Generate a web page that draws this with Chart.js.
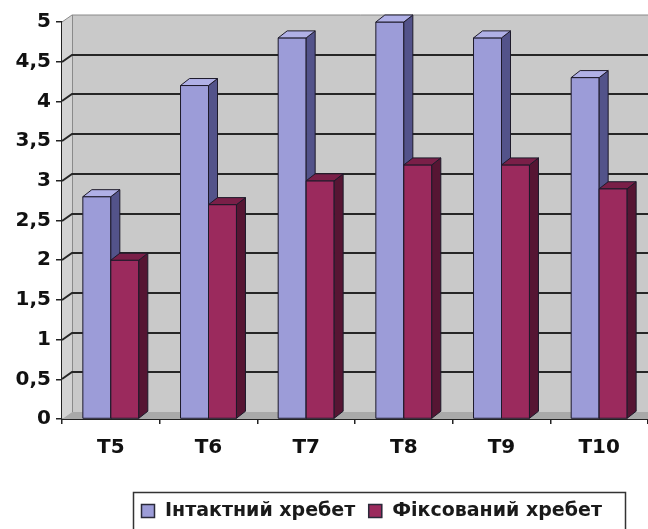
<!DOCTYPE html>
<html>
<head>
<meta charset="utf-8">
<script src="https://cdn.jsdelivr.net/npm/chart.js@4.4.1/dist/chart.umd.min.js"></script>
<style>
  html, body { margin: 0; padding: 0; background: #ffffff; }
  #wrap { width: 648px; height: 529px; }
</style>
</head>
<body>
<div id="wrap"><canvas id="chart" width="648" height="529"></canvas></div>
<script>
// Vertebral levels and the two measured series
const categories = ['T5', 'T6', 'T7', 'T8', 'T9', 'T10'];
const intactSpine = [2.8, 4.2, 4.8, 5.0, 4.8, 4.3];
const fixedSpine = [2.0, 2.7, 3.0, 3.2, 3.2, 2.9];
const seriesNames = ['Інтактний хребет', 'Фіксований хребет'];
const yRange = { min: 0, max: 5, step: 0.5 };

// Face colours for each series: front, side, top
const palette = [
  { front: '#9c9cd8', side: '#53538a', top: '#b0b0e6' },
  { front: '#9b2a5d', side: '#561533', top: '#7a1f48' }
];
const FONT = '"DejaVu Sans", sans-serif';
const WALL = { dx: 10, dy: 7 };
const DEPTH = { dx: 9, dy: 7 };

// Back wall, side wall, floor and wall gridlines
const wallPlugin = {
  id: 'wall3d',
  beforeDatasetsDraw(chart) {
    const { ctx, chartArea: a, scales: { y } } = chart;
    const L = a.left, R = a.right + 40, T = a.top, B = a.bottom;
    ctx.save();
    // back wall
    ctx.fillStyle = '#c9c9c9';
    ctx.fillRect(L + WALL.dx, T - WALL.dy, R - L, B - T);
    // left side wall
    ctx.fillStyle = '#d3d3d3';
    ctx.beginPath();
    ctx.moveTo(L, T); ctx.lineTo(L + WALL.dx, T - WALL.dy);
    ctx.lineTo(L + WALL.dx, B - WALL.dy); ctx.lineTo(L, B);
    ctx.closePath(); ctx.fill();
    // floor
    ctx.fillStyle = '#a9a9a9';
    ctx.beginPath();
    ctx.moveTo(L, B); ctx.lineTo(L + WALL.dx, B - WALL.dy);
    ctx.lineTo(R + WALL.dx, B - WALL.dy); ctx.lineTo(R, B);
    ctx.closePath(); ctx.fill();
    // wall outline
    ctx.strokeStyle = '#8a8a8a';
    ctx.lineWidth = 1;
    ctx.beginPath();
    ctx.moveTo(L, T); ctx.lineTo(L + WALL.dx, T - WALL.dy);
    ctx.lineTo(R + WALL.dx, T - WALL.dy);
    ctx.moveTo(L + WALL.dx + 0.5, T - WALL.dy); ctx.lineTo(L + WALL.dx + 0.5, B - WALL.dy);
    ctx.stroke();
    // gridlines
    ctx.strokeStyle = '#262626';
    ctx.lineWidth = 2;
    for (let v = yRange.min + yRange.step; v < yRange.max - 1e-9; v += yRange.step) {
      const py = Math.round(y.getPixelForValue(v));
      ctx.beginPath();
      ctx.moveTo(L, py);
      ctx.lineTo(L + WALL.dx, py - WALL.dy);
      ctx.lineTo(R + WALL.dx, py - WALL.dy);
      ctx.stroke();
    }
    ctx.restore();
  },
  afterDatasetsDraw(chart) {
    const { ctx } = chart;
    const metas = chart.data.datasets.map((_, i) => chart.getDatasetMeta(i));
    ctx.save();
    ctx.lineWidth = 1;
    ctx.strokeStyle = '#1d1a2a';
    ctx.lineJoin = 'round';
    for (let i = 0; i < categories.length; i++) {
      metas.forEach((meta, d) => {
        const bar = meta.data[i];
        const c = palette[d];
        const x0 = bar.x - bar.width / 2, x1 = bar.x + bar.width / 2;
        const yt = bar.y, yb = bar.base;
        // front face
        ctx.fillStyle = c.front;
        ctx.beginPath();
        ctx.rect(x0, yt, x1 - x0, yb - yt);
        ctx.fill(); ctx.stroke();
        // side face
        ctx.fillStyle = c.side;
        ctx.beginPath();
        ctx.moveTo(x1, yt); ctx.lineTo(x1 + DEPTH.dx, yt - DEPTH.dy);
        ctx.lineTo(x1 + DEPTH.dx, yb - DEPTH.dy); ctx.lineTo(x1, yb);
        ctx.closePath(); ctx.fill(); ctx.stroke();
        // top face
        ctx.fillStyle = c.top;
        ctx.beginPath();
        ctx.moveTo(x0, yt); ctx.lineTo(x0 + DEPTH.dx, yt - DEPTH.dy);
        ctx.lineTo(x1 + DEPTH.dx, yt - DEPTH.dy); ctx.lineTo(x1, yt);
        ctx.closePath(); ctx.fill(); ctx.stroke();
      });
    }
    ctx.restore();
  },
  afterDraw(chart) {
    // framed legend under the chart
    const { ctx } = chart;
    ctx.save();
    ctx.font = 'bold 19px ' + FONT;
    ctx.textBaseline = 'middle';
    ctx.strokeStyle = '#333333';
    ctx.lineWidth = 1.5;
    ctx.strokeRect(133.5, 492.5, 492, 60);
    let x = 141;
    const cy = 511;
    chart.data.datasets.forEach((ds, d) => {
      ctx.fillStyle = palette[d].front;
      ctx.fillRect(x, cy - 7, 14, 14);
      ctx.strokeStyle = '#2a2a3a';
      ctx.lineWidth = 1.5;
      ctx.strokeRect(x + 0.5, cy - 6.5, 13, 13);
      ctx.fillStyle = '#1a1a1a';
      ctx.fillText(ds.label, x + 24, cy);
      x += 24 + ctx.measureText(ds.label).width + 13;
    });
    ctx.restore();
  }
};

new Chart(document.getElementById('chart'), {
  type: 'bar',
  data: {
    labels: categories,
    datasets: [
      { label: seriesNames[0], data: intactSpine, backgroundColor: palette[0].front },
      { label: seriesNames[1], data: fixedSpine, backgroundColor: palette[1].front }
    ]
  },
  options: {
    responsive: false,
    animation: false,
    events: [],
    layout: { padding: { top: 22, right: 0, left: 0, bottom: 0 } },
    datasets: { bar: { categoryPercentage: 0.573, barPercentage: 1.0 } },
    plugins: { legend: { display: false }, tooltip: { enabled: false } },
    scales: {
      x: {
        z: 1,
        afterFit: (s) => { s.height = 110; },
        grid: { offset: true, drawOnChartArea: false, tickLength: 5, color: '#222', lineWidth: 1.5 },
        border: { display: true, color: '#222', width: 2 },
        ticks: { color: '#111', padding: 12, font: { family: FONT, size: 20, weight: 'bold' } }
      },
      y: {
        z: 1,
        min: yRange.min,
        max: yRange.max,
        afterFit: (s) => { s.width = 62; },
        grid: { drawOnChartArea: false, tickLength: 6, color: '#222', lineWidth: 1.5 },
        border: { display: true, color: '#222', width: 2 },
        ticks: {
          stepSize: yRange.step,
          padding: 5,
          color: '#111',
          font: { family: FONT, size: 20, weight: 'bold' },
          callback: (v) => String(v).replace('.', ',')
        }
      }
    }
  },
  plugins: [wallPlugin]
});
</script>
</body>
</html>
